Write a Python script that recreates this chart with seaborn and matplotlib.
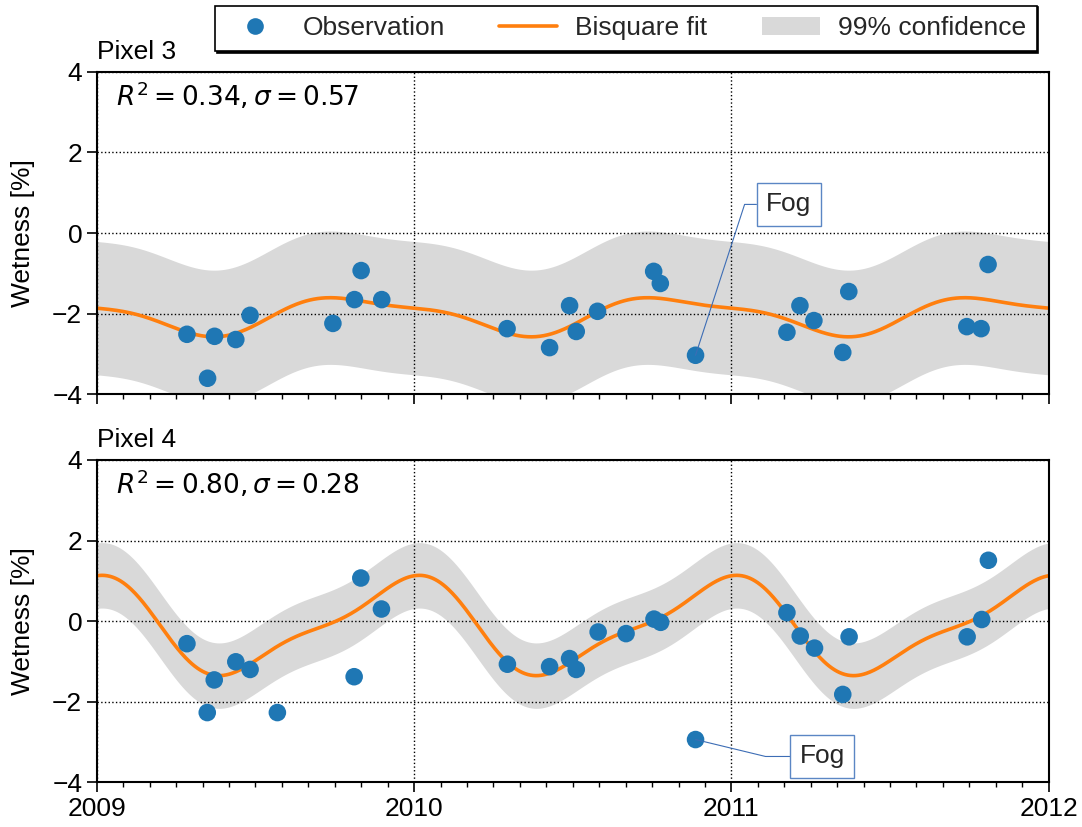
import numpy as np
import pandas as pd
import matplotlib
matplotlib.use("Agg")
import matplotlib.pyplot as plt
import seaborn as sns
from matplotlib.lines import Line2D
from matplotlib.patches import Patch
from matplotlib.ticker import MultipleLocator, FixedLocator

# Observation dates (decimal year) and wetness [%] for each pixel
time_p3 = [2009.284, 2009.349, 2009.371, 2009.438, 2009.483, 2009.744, 2009.812, 2009.833, 2009.898,
           2010.293, 2010.427, 2010.490, 2010.511, 2010.578, 2010.755, 2010.776, 2010.887,
           2011.175, 2011.216, 2011.260, 2011.351, 2011.370, 2011.742, 2011.787, 2011.809]
wet_p3 = [-2.51, -3.60, -2.56, -2.64, -2.04, -2.24, -1.65, -0.93, -1.65,
          -2.37, -2.84, -1.80, -2.44, -1.94, -0.95, -1.25, -3.03,
          -2.46, -1.80, -2.17, -2.96, -1.45, -2.32, -2.37, -0.78]

time_p4 = [2009.284, 2009.348, 2009.370, 2009.438, 2009.483, 2009.569, 2009.811, 2009.832, 2009.897,
           2010.294, 2010.427, 2010.490, 2010.511, 2010.580, 2010.668, 2010.756, 2010.777, 2010.887,
           2011.175, 2011.217, 2011.262, 2011.351, 2011.371, 2011.743, 2011.789, 2011.810]
wet_p4 = [-0.56, -2.27, -1.46, -1.01, -1.20, -2.27, -1.38, 1.07, 0.30,
          -1.07, -1.13, -0.93, -1.20, -0.27, -0.31, 0.05, -0.03, -2.94,
          0.21, -0.37, -0.67, -1.82, -0.39, -0.39, 0.04, 1.51]

panel_names = ["Pixel 3", "Pixel 4"]
r2_labels = ["0.34", "0.80"]
sigma_values = [0.57, 0.28]
ci_factor = 2.9          # 99% prediction band half-width in units of sigma
n_harmonics = 2          # annual + semi-annual cycle

fog_time = 2010.887
fog_label_pos = [(2011.181, 0.71), (2011.286, -3.36)]
fog_arm = [21.6, 34.0]

year_ticks = [2009, 2010, 2011, 2012]


def harmonic_design(t):
    w = 2 * np.pi * (np.asarray(t, dtype=float) - year_ticks[0])
    cols = [np.ones_like(w)]
    for k in range(1, n_harmonics + 1):
        cols += [np.cos(k * w), np.sin(k * w)]
    return np.column_stack(cols)


def bisquare_fit(t, y, n_iter=100, tune=4.685):
    """Iteratively reweighted least squares with Tukey bisquare weights."""
    X = harmonic_design(t)
    y = np.asarray(y, dtype=float)
    w = np.ones(len(y))
    beta = None
    for _ in range(n_iter):
        sw = np.sqrt(w)
        beta, *_ = np.linalg.lstsq(X * sw[:, None], y * sw, rcond=None)
        r = y - X @ beta
        s = np.median(np.abs(r)) / 0.6745
        u = r / (tune * s)
        w = np.where(np.abs(u) < 1, (1 - u ** 2) ** 2, 0.0)
    return beta


sns.set_style("ticks")
plt.rcParams["font.family"] = ["Liberation Sans", "DejaVu Sans"]
plt.rcParams["mathtext.fontset"] = "dejavusans"
FS = 19

blue = "#1f77b4"
orange = "#ff7f0e"
band = "#d9d9d9"
note_line = "#3d6db5"
note_edge = "#5b86c4"

fig = plt.figure(figsize=(10.82, 8.27), dpi=100)
ax_top = fig.add_axes([0.0895, 0.5231, 0.8797, 0.3902])
ax_bot = fig.add_axes([0.0895, 0.0541, 0.8797, 0.3897])

t_grid = np.linspace(year_ticks[0], year_ticks[-1], 721)

series = [(time_p3, wet_p3), (time_p4, wet_p4)]
for i, (ax, (tt, ww)) in enumerate(zip([ax_top, ax_bot], series)):
    beta = bisquare_fit(tt, ww)
    fit = harmonic_design(t_grid) @ beta
    half = ci_factor * sigma_values[i]
    curve = pd.DataFrame({"time": t_grid, "fit": fit})
    obs = pd.DataFrame({"time": tt, "wetness": ww})

    ax.fill_between(t_grid, fit - half, fit + half, color=band, lw=0, zorder=1)
    sns.lineplot(data=curve, x="time", y="fit", ax=ax, color=orange, lw=2.6, zorder=2)
    sns.scatterplot(data=obs, x="time", y="wetness", ax=ax, color=blue, s=160,
                    edgecolor="none", linewidth=0, zorder=3)

    ax.set_xlim(year_ticks[0], year_ticks[-1])
    ax.set_ylim(-4, 4)
    ax.xaxis.set_major_locator(FixedLocator(year_ticks))
    ax.xaxis.set_minor_locator(MultipleLocator(1 / 12))
    ax.yaxis.set_major_locator(MultipleLocator(2))
    ax.set_axisbelow("line")
    ax.grid(True, which="major", color="black", linestyle=":", lw=1.0)
    ax.tick_params(axis="both", which="major", labelsize=FS, length=7, width=1.2,
                   color="black", labelcolor="black")
    ax.tick_params(axis="x", which="minor", length=3.5, width=1.0, color="black")
    for sp in ax.spines.values():
        sp.set_visible(True)
        sp.set_color("black")
        sp.set_linewidth(1.5)
    ax.set_xlabel("")
    ax.set_ylabel("Wetness [%]", fontsize=FS, color="black", labelpad=12)
    ax.set_title(panel_names[i], loc="left", fontsize=FS, pad=9, color="black")
    ax.text(0.02, 0.977, rf"$R^2 = {r2_labels[i]}, \sigma = {sigma_values[i]:.2f}$",
            transform=ax.transAxes, ha="left", va="top", fontsize=FS, color="black")

    fog_val = ww[list(tt).index(fog_time)]
    ax.annotate("Fog", xy=(fog_time, fog_val), xytext=fog_label_pos[i],
                ha="center", va="center", fontsize=FS, zorder=4,
                bbox=dict(boxstyle="square,pad=0.35", fc="white", ec=note_edge, lw=1.0),
                arrowprops=dict(arrowstyle="-", color=note_line, lw=0.8,
                                relpos=(0, 0.5), shrinkA=0, shrinkB=0,
                                connectionstyle=f"arc,angleA=180,armA={fog_arm[i]},angleB=0,armB=0,rad=0"))

ax_top.tick_params(axis="x", which="both", labelbottom=False)
ax_bot.set_xticklabels([str(y) for y in year_ticks])

handles = [Line2D([], [], marker="o", ls="none", color=blue, markersize=12, markeredgewidth=0),
           Line2D([], [], color=orange, lw=2.6),
           Patch(facecolor=band, edgecolor="none")]
labels = ["Observation", "Bisquare fit", "99% confidence"]
leg = fig.legend(handles, labels, loc="upper center", bbox_to_anchor=(0.5786, 1.009),
                 ncol=3, fontsize=FS, frameon=True, fancybox=False, framealpha=1,
                 edgecolor="black", handletextpad=0.7, columnspacing=2.05,
                 handlelength=2.2, borderpad=0.4,
                 shadow={"color": "black", "alpha": 1.0, "ox": 1.2, "oy": -1.2})
leg.get_frame().set_linewidth(1.2)

fig.savefig("out.png", dpi=100)
